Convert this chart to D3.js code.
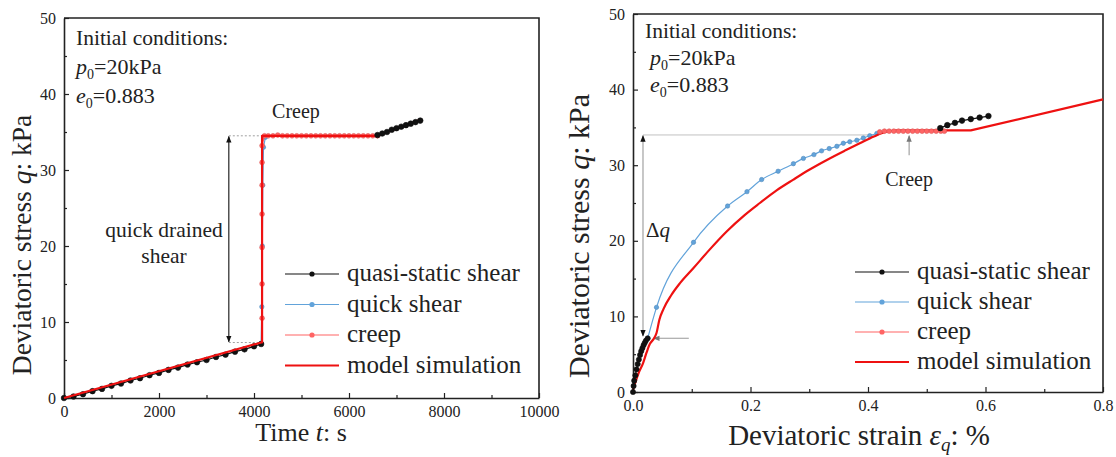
<!DOCTYPE html>
<html><head><meta charset="utf-8">
<script src="https://cdn.jsdelivr.net/npm/d3@7"></script>
<style>
body{margin:0;background:#fff;}
svg text{font-family:"Liberation Serif","Times New Roman",serif;fill:#222;}
</style></head><body>
<svg id="c" width="1116" height="457"></svg>
<script>
// ---------- Left chart data (time t in s, q in kPa) ----------
const leftQuasi1 = [[0,0],[200,0.2],[400,0.5],[600,0.9],[800,1.2],[1000,1.6],[1200,1.9],[1400,2.3],[1600,2.6],[1800,3.0],[2000,3.3],[2200,3.7],[2400,4.0],[2600,4.4],[2800,4.7],[3000,5.0],[3200,5.4],[3400,5.7],[3600,6.1],[3800,6.4],[4000,6.8],[4150,7.1]];
const leftQuasi2 = [[6600,34.6],[6700,34.8],[6800,35.0],[6900,35.3],[7000,35.5],[7100,35.7],[7200,35.9],[7300,36.1],[7400,36.3],[7500,36.5]];
const leftQuick = [[4150,7.2],[4165,12],[4175,20],[4185,28],[4200,33],[4240,34.3]];
const leftCreep = [[4170,10.5],[4170,15],[4170,19.8],[4170,24.2],[4170,28],[4170,31],[4170,33.2],[4220,34.5],[4300,34.5],[4400,34.5],[4500,34.6],[4600,34.5],[4700,34.5],[4800,34.5],[4900,34.5],[5000,34.5],[5100,34.5],[5200,34.5],[5300,34.5],[5400,34.5],[5500,34.5],[5600,34.5],[5700,34.5],[5800,34.5],[5900,34.5],[6000,34.5],[6100,34.5],[6200,34.5],[6300,34.5],[6400,34.5],[6500,34.5],[6600,34.5]];
const leftModel = [[0,0],[4150,7.3],[4170,7.3],[4170,34.5],[6600,34.5],[7500,36.6]];
const leftXTicks = [0,2000,4000,6000,8000,10000];
const leftYTicks = [0,10,20,30,40,50];

// ---------- Right chart data (strain % , q in kPa) ----------
const rightQuasi1 = [[0,0],[0.001,0.8],[0.002,1.5],[0.004,2.2],[0.006,3.0],[0.008,3.7],[0.010,4.3],[0.012,4.9],[0.014,5.4],[0.016,5.8],[0.018,6.2],[0.020,6.5],[0.022,6.8],[0.025,7.1]];
const rightQuasi2 = [[0.523,34.9],[0.535,35.3],[0.548,35.6],[0.560,35.9],[0.575,36.1],[0.590,36.3],[0.605,36.5]];
const rightQuick = [[0.025,7.1],[0.040,11.2],[0.103,19.8],[0.161,24.6],[0.194,26.5],[0.219,28.1],[0.247,29.2],[0.273,30.2],[0.290,30.9],[0.308,31.4],[0.321,31.9],[0.334,32.2],[0.347,32.5],[0.358,32.9],[0.369,33.1],[0.381,33.3],[0.392,33.6],[0.403,33.9],[0.415,34.2]];
const rightCreep = [[0.420,34.4],[0.428,34.5],[0.436,34.5],[0.444,34.5],[0.452,34.5],[0.460,34.5],[0.468,34.5],[0.476,34.5],[0.484,34.5],[0.492,34.5],[0.500,34.5],[0.508,34.5],[0.516,34.5],[0.524,34.5],[0.530,34.5]];
const rightModel = [[0,0.3],[0.005,1.5],[0.010,2.6],[0.017,3.8],[0.023,5.2],[0.029,6.4],[0.035,7.0],[0.040,7.8],[0.045,9.6],[0.052,11.0],[0.065,12.8],[0.080,14.4],[0.103,16.4],[0.130,18.8],[0.159,21.2],[0.190,23.4],[0.216,25.0],[0.245,26.7],[0.273,28.1],[0.300,29.4],[0.330,30.7],[0.360,31.9],[0.386,32.9],[0.410,33.8],[0.430,34.4],[0.450,34.6],[0.575,34.6],[0.800,38.7]];
const rightXTicks = [0,0.2,0.4,0.6,0.8];
const rightYTicks = [0,10,20,30,40,50];

const legendNames = ["quasi-static shear","quick shear","creep","model simulation"];

const C = {quasi:"#111", quick:"#62a3da", creep:"#ff6464", model:"#ee1111", axis:"#222"};

const svg = d3.select("#c");
const defs = svg.append("defs");
function marker(id,color,size){
  defs.append("marker").attr("id",id).attr("viewBox","0 0 10 10").attr("refX",9).attr("refY",5)
   .attr("markerWidth",size).attr("markerHeight",size).attr("orient","auto-start-reverse")
   .append("path").attr("d","M0,1 L10,5 L0,9 Z").attr("fill",color);
}
marker("arrK","#111",6);
marker("arrG","#777",6);

function panel(cfg){
  const g = svg.append("g");
  const x = d3.scaleLinear().domain(cfg.xd).range(cfg.xr);
  const y = d3.scaleLinear().domain([0,50]).range(cfg.yr);
  g.append("g").attr("transform",`translate(0,${cfg.yr[0]})`)
    .call(d3.axisBottom(x).tickValues(cfg.xMinor).tickSize(-3).tickSizeOuter(0).tickFormat(""))
    .call(s=>s.select(".domain").remove()).selectAll("line").attr("stroke",C.axis).attr("stroke-width",1.2);
  g.append("g").attr("transform",`translate(${cfg.xr[0]},0)`)
    .call(d3.axisLeft(y).tickValues([5,15,25,35,45]).tickSize(-3).tickSizeOuter(0).tickFormat(""))
    .call(s=>s.select(".domain").remove()).selectAll("line").attr("stroke",C.axis).attr("stroke-width",1.2);
  const xa = g.append("g").attr("transform",`translate(0,${cfg.yr[0]})`)
    .call(d3.axisBottom(x).tickValues(cfg.xTicks).tickSize(-5).tickSizeOuter(0).tickPadding(8).tickFormat(cfg.xFmt));
  const ya = g.append("g").attr("transform",`translate(${cfg.xr[0]},0)`)
    .call(d3.axisLeft(y).tickValues(cfg.yTicks).tickSize(-5).tickSizeOuter(0).tickPadding(8));
  [xa,ya].forEach(a=>{
    a.select(".domain").attr("stroke",C.axis).attr("stroke-width",1.6);
    a.selectAll("line").attr("stroke",C.axis).attr("stroke-width",1.2);
    a.selectAll("text").attr("font-size",16).attr("fill","#333");
  });
  g.append("path").attr("d",`M${cfg.xr[0]},${cfg.yr[1]}H${cfg.xr[1]}V${cfg.yr[0]}`)
    .attr("fill","none").attr("stroke",C.axis).attr("stroke-width",1.6);
  return {g,x,y};
}

function series(p,data,color,width,dots,r,curve){
  const line = d3.line().x(d=>p.x(d[0])).y(d=>p.y(d[1])).curve(curve||d3.curveLinear);
  p.g.append("path").datum(data).attr("d",line).attr("fill","none").attr("stroke",color).attr("stroke-width",width).attr("stroke-linejoin","round");
  if(dots){
    p.g.append("g").selectAll("circle").data(data).join("circle")
      .attr("cx",d=>p.x(d[0])).attr("cy",d=>p.y(d[1])).attr("r",r).attr("fill",color).attr("stroke",d3.color(color).darker(0.4)).attr("stroke-width",0.6);
  }
}

function legend(g,x0,y0,dy){
  const cols=[C.quasi,C.quick,C.creep,C.model];
  legendNames.forEach((n,i)=>{
    const yy=y0+i*dy;
    g.append("line").attr("x1",x0).attr("x2",x0+54).attr("y1",yy).attr("y2",yy)
      .attr("stroke",cols[i]).attr("stroke-width",i===3?2.2:1.2);
    if(i<3) g.append("circle").attr("cx",x0+27).attr("cy",yy).attr("r",2.6).attr("fill",cols[i]);
    g.append("text").attr("x",x0+62).attr("y",yy+7).attr("font-size",25).text(n);
  });
}

function initCond(g,x0,x1,y0,dy){
  g.append("text").attr("x",x0).attr("y",y0).attr("font-size",21.5).text("Initial conditions:");
  const t1=g.append("text").attr("x",x1).attr("y",y0+dy).attr("font-size",22);
  t1.append("tspan").attr("font-style","italic").text("p");
  t1.append("tspan").attr("font-size",14).attr("dy",5).text("0");
  t1.append("tspan").attr("dy",-5).text("=20kPa");
  const t2=g.append("text").attr("x",x1).attr("y",y0+2*dy).attr("font-size",22);
  t2.append("tspan").attr("font-style","italic").text("e");
  t2.append("tspan").attr("font-size",14).attr("dy",5).text("0");
  t2.append("tspan").attr("dy",-5).text("=0.883");
}

function yTitle(g,cx,cy,size){
  const t=g.append("text").attr("transform",`translate(${cx},${cy}) rotate(-90)`).attr("text-anchor","middle").attr("font-size",size);
  t.append("tspan").text("Deviatoric stress ");
  t.append("tspan").attr("font-style","italic").text("q");
  t.append("tspan").text(": kPa");
}

// ===== Left panel =====
const L = panel({xd:[0,10000],xr:[64,539],yr:[398,18],xTicks:leftXTicks,yTicks:leftYTicks,
  xMinor:[1000,3000,5000,7000,9000],xFmt:d3.format("d")});
L.g.append("line").attr("x1",L.x(3470)).attr("x2",L.x(4170)).attr("y1",L.y(34.5)).attr("y2",L.y(34.5))
  .attr("stroke","#888").attr("stroke-width",0.8).attr("stroke-dasharray","2,2");
L.g.append("line").attr("x1",L.x(3470)).attr("x2",L.x(4150)).attr("y1",L.y(7.3)).attr("y2",L.y(7.3))
  .attr("stroke","#888").attr("stroke-width",0.8).attr("stroke-dasharray","2,2");
L.g.append("line").attr("x1",L.x(3470)).attr("x2",L.x(3470)).attr("y1",L.y(7.4)).attr("y2",L.y(34.4))
  .attr("stroke","#111").attr("stroke-width",1.1).attr("marker-start","url(#arrK)").attr("marker-end","url(#arrK)");
series(L,leftQuick,C.quick,1.2,true,2.2);
series(L,leftQuasi1,C.quasi,1.2,true,2.8);
series(L,leftCreep,C.creep,1.2,true,2.4);
series(L,leftModel,C.model,2.2,false);
series(L,leftQuasi2,C.quasi,1.2,true,2.8);
initCond(L.g,76,76,45,29);
L.g.append("text").attr("x",296).attr("y",118).attr("text-anchor","middle").attr("font-size",20).text("Creep");
L.g.append("text").attr("x",164).attr("y",237).attr("text-anchor","middle").attr("font-size",21.5).text("quick drained");
L.g.append("text").attr("x",164).attr("y",263).attr("text-anchor","middle").attr("font-size",21.5).text("shear");
legend(L.g,285,274,30.5);
yTitle(L.g,31,245,27.5);
{
  const t=L.g.append("text").attr("x",301).attr("y",441).attr("text-anchor","middle").attr("font-size",26);
  t.append("tspan").text("Time ");
  t.append("tspan").attr("font-style","italic").text("t");
  t.append("tspan").text(": s");
}

// ===== Right panel =====
const R = panel({xd:[0,0.8],xr:[633,1103],yr:[392,14],xTicks:rightXTicks,yTicks:rightYTicks,
  xMinor:[0.1,0.3,0.5,0.7],xFmt:d3.format(".1f")});
R.g.append("line").attr("x1",R.x(0.017)).attr("x2",R.x(0.41)).attr("y1",R.y(34)).attr("y2",R.y(34))
  .attr("stroke","#bbb").attr("stroke-width",0.9);
R.g.append("line").attr("x1",R.x(0.017)).attr("x2",R.x(0.017)).attr("y1",R.y(7.4)).attr("y2",R.y(33.9))
  .attr("stroke","#999").attr("stroke-width",1.1).attr("marker-start","url(#arrK)").attr("marker-end","url(#arrK)");
R.g.append("line").attr("x1",R.x(0.095)).attr("x2",R.x(0.035)).attr("y1",R.y(7.1)).attr("y2",R.y(7.1))
  .attr("stroke","#999").attr("stroke-width",1.1).attr("marker-end","url(#arrG)");
R.g.append("line").attr("x1",R.x(0.47)).attr("x2",R.x(0.47)).attr("y1",R.y(31.3)).attr("y2",R.y(33.9))
  .attr("stroke","#999").attr("stroke-width",1.1).attr("marker-end","url(#arrG)");
series(R,rightQuick,C.quick,1.2,true,2.2,d3.curveMonotoneX);
{
  const k = rightModel.findIndex(d=>d[0]>=0.45);
  series(R,rightModel.slice(0,k+1),C.model,2.2,false,0,d3.curveMonotoneX);
  series(R,rightModel.slice(k),C.model,2.2,false);
}
series(R,rightCreep,C.creep,1.2,true,2.4);
series(R,rightQuasi1,C.quasi,1.2,true,2.6);
series(R,rightQuasi2,C.quasi,1.2,true,2.8);
initCond(R.g,645,650,38,27);
R.g.append("text").attr("x",R.x(0.47)).attr("y",R.y(27.2)).attr("text-anchor","middle").attr("font-size",20).text("Creep");
{
  const t=R.g.append("text").attr("x",R.x(0.022)).attr("y",R.y(20.5)).attr("font-size",21);
  t.append("tspan").text("Δ");
  t.append("tspan").attr("font-style","italic").text("q");
}
legend(R.g,855,272,30);
yTitle(R.g,589,236,30);
{
  const t=R.g.append("text").attr("x",859).attr("y",445).attr("text-anchor","middle").attr("font-size",29);
  t.append("tspan").text("Deviatoric strain ");
  t.append("tspan").attr("font-style","italic").text("ε");
  t.append("tspan").attr("font-style","italic").attr("font-size",19).attr("dy",6).text("q");
  t.append("tspan").attr("dy",-6).text(": %");
}
</script>
</body></html>
